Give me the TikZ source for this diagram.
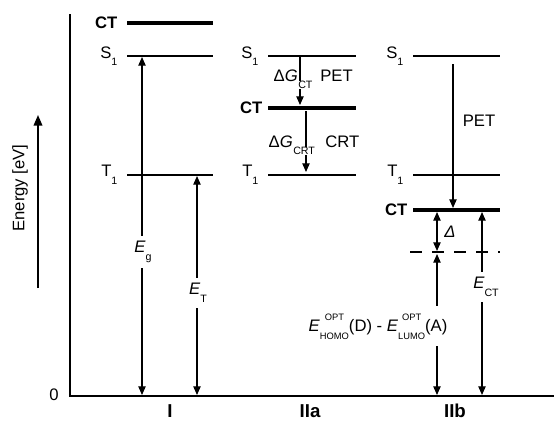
\documentclass[tikz,border=0pt]{standalone}
\usepackage{fontspec}
\setmainfont{Liberation Sans}
\usetikzlibrary{arrows.meta, positioning, calc}
\newcommand{\lblfont}{\fontsize{12.5}{15}\selectfont}
\newcommand{\lsub}[1]{\raisebox{-0.85ex}{\fontsize{8}{9}\selectfont #1}}
\newcommand{\lsubw}[1]{\raisebox{-0.85ex}{\setlength{\fboxsep}{0.4pt}\colorbox{white}{\fontsize{8}{9}\selectfont #1}}}
\newcommand{\supsub}[2]{\raisebox{2.6pt}{\fontsize{7}{14}\selectfont\begin{tabular}{@{}c@{}}#1\\#2\end{tabular}}}
\tikzset{
    % Energy levels
    level/.style={line width=1.6pt},
    ctlevel/.style={line width=2.7pt},
    lvllabel/.style={font=\lblfont, inner sep=1pt},
    ctlabel/.style={font=\lblfont\bfseries, inner sep=1pt},
    % Axes
    axisline/.style={line width=1.8pt},
    % Arrow styles
    onearrow/.style={-{Triangle[length=6.5pt, width=5.5pt]}, line width=0.9pt},
    twoarrow/.style={{Triangle[length=6.5pt, width=5.5pt]}-{Triangle[length=6.5pt, width=5.5pt]}, line width=0.9pt},
    cutlabel/.style={fill=white, font=\lblfont, inner sep=2pt},
}
\begin{document}
\begin{tikzpicture}[x=0.75pt, y=-0.75pt]
\useasboundingbox (0,0) rectangle (554,422);

% ============================================================
% Axes
% ============================================================
\coordinate (axtop) at (70,14);
\coordinate (origin) at (70,396);
\coordinate (axend) at (554,396);
\draw[axisline] (axtop) -- (origin) -- (axend);
\node[font=\lblfont] (zero) at (54,395) {0};

\coordinate (enbot) at (38,288);
\coordinate (entop) at (38,115);
\draw[-{Triangle[length=8pt, width=6.5pt]}, line width=1.1pt] (enbot) -- (entop);
\node[font=\lblfont, rotate=90] (energy) at (20,188) {Energy [eV]};

% ============================================================
% Column I
% ============================================================
\coordinate (ct1w) at (127,23);  \coordinate (ct1e) at (213,23);
\coordinate (s1w) at (127,56);   \coordinate (s1e) at (213,56);
\coordinate (t1w) at (127,175);  \coordinate (t1e) at (213,175);
\draw[ctlevel] (ct1w) -- (ct1e);
\draw[level] (s1w) -- (s1e);
\draw[level] (t1w) -- (t1e);
\node[ctlabel, left=6pt of ct1w] (ct1lbl) {CT};
\node[lvllabel, left=6pt of s1w] (s1lbl) {S\lsub{1}};
\node[lvllabel, left=6pt of t1w] (t1lbl) {T\lsub{1}};

\coordinate (egtop) at (142,57);  \coordinate (egbot) at (142,395);
\coordinate (ettop) at (197,176); \coordinate (etbot) at (197,395);
\draw[twoarrow] (egbot) -- (egtop);
\draw[twoarrow] (etbot) -- (ettop);
\node[cutlabel, inner sep=4pt] (eglbl) at (143,252) {\textit{E}\lsub{g}};
\node[cutlabel, inner sep=4pt] (etlbl) at (198,293) {\textit{E}\lsub{T}};

% ============================================================
% Column IIa
% ============================================================
\coordinate (s2w) at (268,56);   \coordinate (s2e) at (356,56);
\coordinate (ct2w) at (268,108); \coordinate (ct2e) at (356,108);
\coordinate (t2w) at (268,175);  \coordinate (t2e) at (356,175);
\draw[level] (s2w) -- (s2e);
\draw[ctlevel] (ct2w) -- (ct2e);
\draw[level] (t2w) -- (t2e);
\node[lvllabel, left=6pt of s2w] (s2lbl) {S\lsub{1}};
\node[ctlabel, left=3pt of ct2w] (ct2lbl) {CT};
\node[lvllabel, left=6pt of t2w] (t2lbl) {T\lsub{1}};

\coordinate (petatop) at (300,57);  \coordinate (petabot) at (300,105);
\coordinate (crttop) at (306,111);  \coordinate (crtbot) at (306,172);
\draw[onearrow] (petatop) -- (petabot);
\draw[onearrow] (crttop) -- (crtbot);
\node[font=\lblfont, inner sep=0pt, anchor=base east] (dgct) at (298,81) {Δ\textit{G}\rlap{\lsubw{CT}}};
\node[font=\lblfont, inner sep=0pt, anchor=base west] (peta) at (320,81) {PET};
\node[font=\lblfont, inner sep=0pt, anchor=base east] (dgcrt) at (293,147) {Δ\textit{G}\rlap{\lsubw{CRT}}};
\node[font=\lblfont, inner sep=0pt, anchor=base west] (crt) at (325,147) {CRT};

% ============================================================
% Column IIb
% ============================================================
\coordinate (s3w) at (413,56);   \coordinate (s3e) at (500,56);
\coordinate (t3w) at (413,175);  \coordinate (t3e) at (500,175);
\coordinate (ct3w) at (413,210); \coordinate (ct3e) at (500,210);
\coordinate (optw) at (410,252); \coordinate (opte) at (500,252);
\draw[level] (s3w) -- (s3e);
\draw[level] (t3w) -- (t3e);
\draw[ctlevel] (ct3w) -- (ct3e);
\draw[level, dash pattern=on 9pt off 7.5pt] (optw) -- (opte);
\node[lvllabel, left=6pt of s3w] (s3lbl) {S\lsub{1}};
\node[lvllabel, left=6pt of t3w] (t3lbl) {T\lsub{1}};
\node[ctlabel, left=3pt of ct3w] (ct3lbl) {CT};

\coordinate (petbtop) at (453,64);  \coordinate (petbbot) at (453,208);
\draw[onearrow] (petbtop) -- (petbbot);
\node[font=\lblfont, inner sep=0pt] (petb) at (479,121) {PET};

\coordinate (dtop) at (437,212);  \coordinate (dbot) at (437,251);
\draw[twoarrow] (dbot) -- (dtop);
\node[font=\lblfont, inner sep=0pt] (dlbl) at (450,232) {\textit{Δ}};

\coordinate (opttop) at (437,254); \coordinate (optbot) at (437,395);
\draw[twoarrow] (optbot) -- (opttop);
\node[cutlabel, inner sep=1pt] (optlbl) at (378,326)
    {\textit{E}\supsub{OPT}{HOMO}(D) - \textit{E}\supsub{OPT}{LUMO}(A)};

\coordinate (ecttop) at (482,212); \coordinate (ectbot) at (482,395);
\draw[twoarrow] (ectbot) -- (ecttop);
\node[cutlabel, inner sep=4pt] (ectlbl) at (486,287) {\textit{E}\lsub{CT}};

% ============================================================
% Column labels
% ============================================================
\node[font=\fontsize{14}{16}\selectfont\bfseries] (colI) at (170,411) {I};
\node[font=\fontsize{14}{16}\selectfont\bfseries] (colIIa) at (310,411) {IIa};
\node[font=\fontsize{14}{16}\selectfont\bfseries] (colIIb) at (455,411) {IIb};

\end{tikzpicture}
\end{document}
